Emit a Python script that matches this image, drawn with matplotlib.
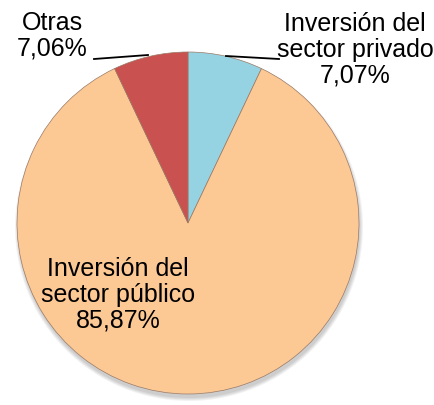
import matplotlib
matplotlib.use("Agg")
import matplotlib.pyplot as plt
from matplotlib.patches import Ellipse

labels = ["Inversión del\nsector privado", "Inversión del\nsector público", "Otras"]
values = [7.07, 85.87, 7.06]
pct_labels = ["7,07%", "85,87%", "7,06%"]
colors = ["#95D3E3", "#FCC894", "#C9514F"]

plt.rcParams['font.family'] = ['Liberation Sans', 'DejaVu Sans']

W, H = 435, 405
fig = plt.figure(figsize=(W / 100, H / 100), dpi=100)
ax = fig.add_axes([0, 0, 1, 1])

cx, cy, r = 188, 223, 171

# soft shadow
for i in range(4):
    ax.add_patch(Ellipse((cx + 1, cy + 4), 2 * (r + 3 - i), 2 * (r + 3 - i),
                         color='black', alpha=0.05, lw=0, zorder=0))

# y axis is inverted below, so angles are mirrored: start at -90 (= visual top),
# counter-clockwise in data = clockwise on screen
wedges, _ = ax.pie(values, colors=colors, startangle=-90, counterclock=True,
                   center=(cx, cy), radius=r, frame=True,
                   wedgeprops=dict(edgecolor='#9a7a66', linewidth=0.5))
ax.set_xlim(0, W)
ax.set_ylim(H, 0)
ax.set_aspect('equal')
ax.axis('off')

fs = 18
ax.text(52, 36, "Otras\n" + pct_labels[2], ha='center', va='center',
        fontsize=fs, linespacing=1.1)
ax.text(355, 50, labels[0] + "\n" + pct_labels[0], ha='center', va='center',
        fontsize=fs, linespacing=1.1)
ax.text(118, 295, labels[1] + "\n" + pct_labels[1], ha='center', va='center',
        fontsize=fs, linespacing=1.1)

ax.plot([94, 148], [59, 55], color='black', lw=1.3)
ax.plot([226, 279], [56, 59], color='black', lw=1.3)

fig.savefig("out.png", dpi=100)
